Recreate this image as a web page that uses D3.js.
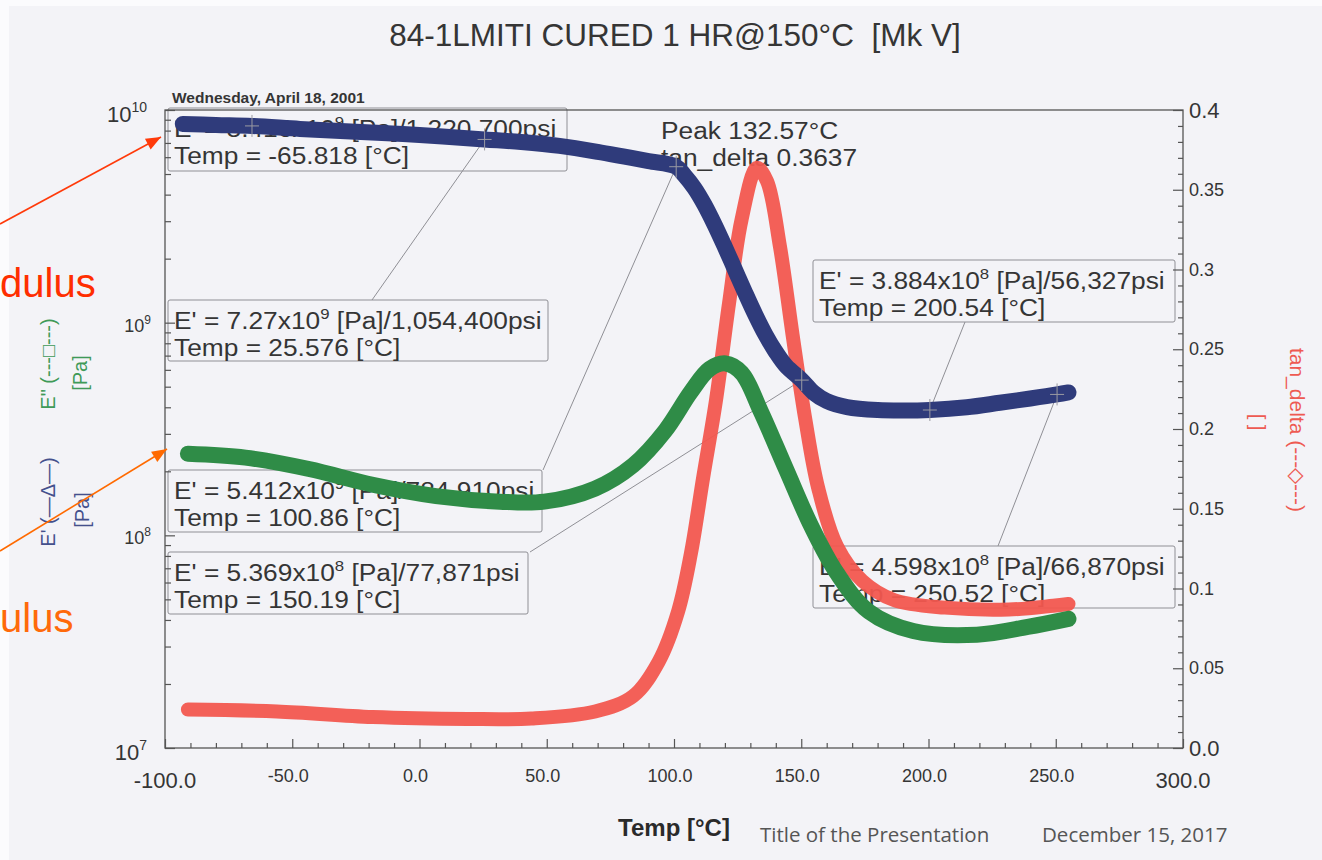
<!DOCTYPE html>
<html><head><meta charset="utf-8">
<script src="https://cdn.jsdelivr.net/npm/d3@7"></script>
<style>body{margin:0;background:#fff;} svg{display:block;} text{white-space:pre;}</style>
</head><body><svg id="c" width="1322" height="860"></svg>
<script>
// ---------------- data ----------------
const storageT = [-93, -80, -65.818, -47, -25, 0, 25.576, 40, 55, 70, 80, 90, 100.86, 104, 108, 112, 116, 120, 124, 128, 132, 136, 140, 144, 150.19, 155, 160, 168, 180, 190, 200.54, 215, 228, 240, 250.52, 255];
const storageE = [8.6e9, 8.5e9, 8.416e9, 8.15e9, 7.9e9, 7.63e9, 7.27e9, 7.07e9, 6.78e9, 6.36e9, 6.05e9, 5.75e9, 5.412e9, 4.95e9, 4.30e9, 3.58e9, 2.88e9, 2.27e9, 1.77e9, 1.38e9, 1.087e9, 8.75e8, 7.28e8, 6.26e8, 5.369e8, 4.67e8, 4.28e8, 4.01e8, 3.88e8, 3.86e8, 3.884e8, 4.0e8, 4.2e8, 4.4e8, 4.598e8, 4.7e8];
const lossT = [-91, -68.4, -43.4, -18.4, 6.5, 31.6, 49, 69, 84, 96.5, 106.6, 114, 120.3, 126.6, 134.1, 144, 154, 164, 176.6, 194, 219, 239, 255];
const lossE = [2.42e8, 2.32e8, 2.05e8, 1.73e8, 1.53e8, 1.44e8, 1.44e8, 1.66e8, 2.14e8, 3.1e8, 4.72e8, 6.06e8, 6.43e8, 5.8e8, 3.83e8, 2.05e8, 1.1e8, 6.65e7, 4.38e7, 3.55e7, 3.41e7, 3.71e7, 4.05e7];
const tanT = [-91, -56, -18.4, 19, 44, 69, 84, 94, 101.6, 106.6, 111.5, 116.5, 121.6, 126.6, 132.57, 136.5, 141.6, 146.6, 151.6, 156.7, 164, 174, 186.4, 206.5, 231.6, 249, 255];
const tanD = [0.0241, 0.0229, 0.0194, 0.0182, 0.0185, 0.0229, 0.0326, 0.0542, 0.0856, 0.1216, 0.17, 0.218, 0.2785, 0.3317, 0.3637, 0.3556, 0.3147, 0.259, 0.206, 0.1627, 0.1266, 0.1048, 0.0928, 0.088, 0.0868, 0.0892, 0.0903];

const annotTemp = [-65.818, 25.576, 100.86, 150.19, 200.54, 250.52];
const annotE = [8.416e9, 7.27e9, 5.412e9, 5.369e8, 3.884e8, 4.598e8];
const annotMant = ["8.416", "7.27", "5.412", "5.369", "3.884", "4.598"];
const annotExp = ["9", "9", "9", "8", "8", "8"];
const annotPsi = ["1,220,700", "1,054,400", "784,910", "77,871", "56,327", "66,870"];
const peakT = 132.57, peakTan = 0.3637;

const xTicks = [-100, -50, 0, 50, 100, 150, 200, 250, 300];
const xTickLabels = ["-100.0", "-50.0", "0.0", "50.0", "100.0", "150.0", "200.0", "250.0", "300.0"];
const leftExps = [7, 8, 9, 10];
const rightTicks = [0, 0.05, 0.1, 0.15, 0.2, 0.25, 0.3, 0.35, 0.4];
const rightTickLabels = ["0.0", "0.05", "0.1", "0.15", "0.2", "0.25", "0.3", "0.35", "0.4"];

// ---------------- setup ----------------
const svg = d3.select("#c");
const FONT = "'Liberation Sans', Arial, sans-serif";
const NARROW = "'Liberation Sans Narrow', 'Liberation Sans', Arial, sans-serif";
const TXT = "#353535";
const BLUE = "#2f3b7b", GREEN = "#2f8c47", RED = "#f2574f";

svg.append("rect").attr("x", 0).attr("y", 0).attr("width", 1322).attr("height", 860).attr("fill", "#fbfbfd");
svg.append("rect").attr("x", 9).attr("y", 6).attr("width", 1313).attr("height", 854).attr("fill", "#f3f3f7");

const L = 165, R = 1183, T = 110, B = 748;
const x = d3.scaleLinear().domain([-100, 300]).range([L, R]);
const yL = d3.scaleLog().domain([1e7, 1e10]).range([B, T]);
const yR = d3.scaleLinear().domain([0, 0.4]).range([B, T]);

// title
svg.append("text").attr("x", 675).attr("y", 46).attr("text-anchor", "middle")
  .attr("font-family", FONT).attr("font-size", 31.5).attr("fill", TXT)
  .text("84-1LMITI CURED 1 HR@150°C  [Mk V]");
svg.append("text").attr("x", 172).attr("y", 103)
  .attr("font-family", FONT).attr("font-size", 15.5).attr("font-weight", "bold").attr("fill", TXT)
  .text("Wednesday, April 18, 2001");

// ---------------- annotation boxes (under curves) ----------------
const boxes = [
  {x0: 168, y0: 108, x1: 567, y1: 171, lead: null},
  {x0: 168, y0: 300, x1: 548, y1: 361, lead: [372, 300]},
  {x0: 168, y0: 470, x1: 542, y1: 532, lead: [543, 470]},
  {x0: 168, y0: 552, x1: 528, y1: 614, lead: [530, 552]},
  {x0: 813, y0: 260, x1: 1175, y1: 322, lead: [965, 322]},
  {x0: 813, y0: 546, x1: 1175, y1: 608, lead: [998, 546]}
];
const FS = 23.5, SX = 1.12;
const ann = svg.append("g");
function boxText(tx, ty) {
  return ann.append("text").attr("transform", `translate(${tx},${ty}) scale(${SX},1)`)
    .attr("font-family", FONT).attr("font-size", FS).attr("fill", TXT);
}
boxes.forEach((b, i) => {
  ann.append("rect").attr("x", b.x0).attr("y", b.y0).attr("width", b.x1 - b.x0).attr("height", b.y1 - b.y0)
    .attr("rx", 2).attr("fill", "none").attr("stroke", "#8f8f95").attr("stroke-width", 1);
  const px = x(annotTemp[i]), py = yL(annotE[i]);
  if (b.lead) {
    ann.append("line").attr("x1", b.lead[0]).attr("y1", b.lead[1]).attr("x2", px).attr("y2", py)
      .attr("stroke", "#8f8f95").attr("stroke-width", 1);
  }
  const t = boxText(b.x0 + 6, b.y0 + 29);
  t.append("tspan").text("E' = " + annotMant[i] + "x10");
  t.append("tspan").attr("dy", -10).attr("font-size", 15).text(annotExp[i]);
  t.append("tspan").attr("dy", 10).text(" [Pa]/" + annotPsi[i] + "psi");
  boxText(b.x0 + 6, b.y0 + 56).text("Temp = " + annotTemp[i] + " [°C]");
});
boxText(661, 139).text("Peak " + peakT + "°C");
boxText(661, 166).text("tan_delta " + peakTan);

// ---------------- curves ----------------
const curve = d3.curveCatmullRom.alpha(0.5);
const tanLine = d3.line().x(d => x(d[0])).y(d => yR(d[1])).curve(curve);
const eLine = d3.line().x(d => x(d[0])).y(d => yL(d[1])).curve(curve);

svg.append("path").datum(d3.zip(tanT, tanD)).attr("d", tanLine)
  .attr("fill", "none").attr("stroke", RED).attr("stroke-width", 14).attr("stroke-linecap", "round").attr("stroke-linejoin", "round").attr("opacity", 0.95);
svg.append("path").datum(d3.zip(lossT, lossE)).attr("d", eLine)
  .attr("fill", "none").attr("stroke", GREEN).attr("stroke-width", 16).attr("stroke-linecap", "round").attr("stroke-linejoin", "round");
svg.append("path").datum(d3.zip(storageT, storageE)).attr("d", eLine)
  .attr("fill", "none").attr("stroke", BLUE).attr("stroke-width", 16).attr("stroke-linecap", "round").attr("stroke-linejoin", "round");

// cursor crosses
annotTemp.forEach((t, i) => {
  const px = x(t), py = yL(annotE[i]);
  svg.append("line").attr("x1", px).attr("x2", px).attr("y1", py - 11).attr("y2", py + 11).attr("stroke", "#9a9aa2").attr("stroke-width", 1);
  svg.append("line").attr("x1", px - 7).attr("x2", px + 7).attr("y1", py).attr("y2", py).attr("stroke", "#9a9aa2").attr("stroke-width", 1);
});

// ---------------- axes ----------------
const AX = "#555";
svg.append("rect").attr("x", L).attr("y", T).attr("width", R - L).attr("height", B - T)
  .attr("fill", "none").attr("stroke", AX).attr("stroke-width", 1.3);

function styleAxis(g) { g.select(".domain").remove(); g.selectAll("line").attr("stroke", AX).attr("stroke-width", 1.2); }

const xMinor = d3.range(-100, 301, 10).filter(v => v % 50 !== 0);
svg.append("g").attr("transform", `translate(0,${B})`).call(d3.axisBottom(x).tickValues(xTicks).tickSize(-9).tickFormat("")).call(styleAxis);
svg.append("g").attr("transform", `translate(0,${B})`).call(d3.axisBottom(x).tickValues(xMinor).tickSize(-5).tickFormat("")).call(styleAxis);

const lMajor = leftExps.map(e => Math.pow(10, e));
const lMinor = [];
leftExps.slice(0, -1).forEach(e => { for (let k = 2; k < 10; k++) lMinor.push(k * Math.pow(10, e)); });
svg.append("g").attr("transform", `translate(${L},0)`).call(d3.axisLeft(yL).tickValues(lMajor).tickSize(-10).tickFormat("")).call(styleAxis);
svg.append("g").attr("transform", `translate(${L},0)`).call(d3.axisLeft(yL).tickValues(lMinor).tickSize(-6).tickFormat("")).call(styleAxis);

const rMinor = d3.range(0, 41).map(v => v / 100).filter((v, i) => i % 5 !== 0);
svg.append("g").attr("transform", `translate(${R},0)`).call(d3.axisRight(yR).tickValues(rightTicks).tickSize(-10).tickFormat("")).call(styleAxis);
svg.append("g").attr("transform", `translate(${R},0)`).call(d3.axisRight(yR).tickValues(rMinor).tickSize(-5).tickFormat("")).call(styleAxis);

// x labels
xTicks.forEach((v, i) => {
  const big = (i === 0 || i === xTicks.length - 1);
  svg.append("text").attr("x", x(v) - (big ? 0 : 4)).attr("y", big ? 788 : 782).attr("text-anchor", "middle")
    .attr("font-family", big ? FONT : NARROW).attr("font-size", big ? 22 : 18).attr("fill", TXT)
    .text(xTickLabels[i]);
});
// left labels
leftExps.forEach((e, i) => {
  const big = (e === 7 || e === 10);
  const t = svg.append("text").attr("x", big ? 147 : 151).attr("y", yL(Math.pow(10, e)) + (big ? 12 : 9)).attr("text-anchor", "end")
    .attr("font-family", FONT).attr("font-size", big ? 22 : 18).attr("fill", TXT);
  t.append("tspan").text("10");
  t.append("tspan").attr("dy", big ? -10 : -8).attr("font-size", big ? 14 : 12).text(String(e));
});
// right labels
rightTicks.forEach((v, i) => {
  const big = (v === 0 || v === 0.4);
  svg.append("text").attr("x", 1189).attr("y", yR(v) + (big ? 8 : 6)).attr("font-family", FONT)
    .attr("font-size", big ? 22 : 18).attr("fill", TXT).text(rightTickLabels[i]);
});

// axis titles
function vtext(cx, cy, rot, txt, color, size) {
  svg.append("text").attr("transform", `translate(${cx},${cy}) rotate(${rot})`).attr("text-anchor", "middle")
    .attr("dominant-baseline", "central").attr("font-family", FONT).attr("font-size", size).attr("fill", color).text(txt);
}
vtext(48, 364, -90, "E\" (---□---)", "#3f9a58", 20);
vtext(80, 373, -90, "[Pa]", "#3f9a58", 20);
vtext(48, 502, -90, "E' (—Δ—)", "#44508c", 20);
vtext(82, 510, -90, "[Pa]", "#44508c", 20);
vtext(1297, 430, 90, "tan_delta (---◇---)", "#ee5a52", 21);
vtext(1258, 422, 90, "[ ]", "#ee5a52", 20);

// footer
svg.append("text").attr("x", 674).attr("y", 836).attr("text-anchor", "middle").attr("font-family", NARROW)
  .attr("font-size", 24).attr("font-weight", "bold").attr("fill", "#2a2a2a").text("Temp [°C]");
svg.append("text").attr("x", 760).attr("y", 842).attr("font-family", "'Open Sans', sans-serif").attr("font-size", 20.5).attr("fill", "#555")
  .text("Title of the Presentation");
svg.append("text").attr("x", 1042).attr("y", 842).attr("font-family", "'Open Sans', sans-serif").attr("font-size", 20.5).attr("fill", "#555")
  .text("December 15, 2017");

// slide overlays (cut-off labels and arrows)
svg.append("text").attr("x", 0).attr("y", 297).attr("font-family", FONT)
  .attr("font-size", 40).attr("fill", "#ff2e00").text("dulus");
svg.append("text").attr("x", 0).attr("y", 632).attr("font-family", FONT)
  .attr("font-size", 40).attr("fill", "#ff6a0a").text("ulus");

function arrow(x1, y1, x2, y2, color) {
  svg.append("line").attr("x1", x1).attr("y1", y1).attr("x2", x2).attr("y2", y2).attr("stroke", color).attr("stroke-width", 1.6);
  const a = Math.atan2(y2 - y1, x2 - x1), len = 15, w = 6;
  const bx = x2 - len * Math.cos(a), by = y2 - len * Math.sin(a);
  const pts = [[x2, y2], [bx - w * Math.sin(a), by + w * Math.cos(a)], [bx + w * Math.sin(a), by - w * Math.cos(a)]];
  svg.append("polygon").attr("points", pts.map(p => p.join(",")).join(" ")).attr("fill", color);
}
arrow(0, 224, 161, 137, "#ff3a0a");
arrow(0, 551, 167, 449, "#ff6a00");
</script>
</body></html>
